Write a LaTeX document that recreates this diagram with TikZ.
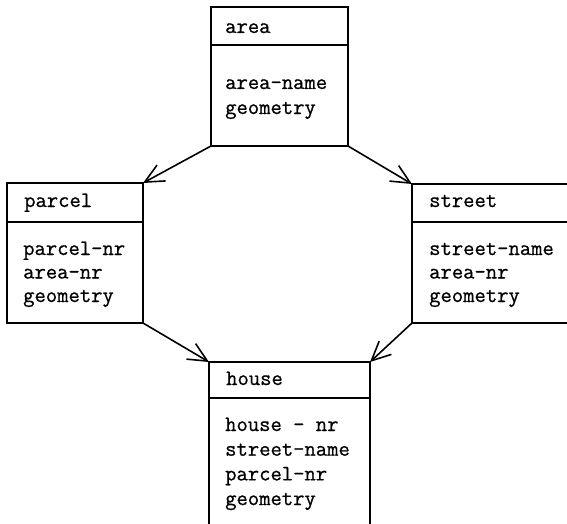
\documentclass[tikz,border=0pt]{standalone}
\usepackage{fontspec}
\newfontfamily\boxfont[FakeBold=0.8]{Latin Modern Mono}
\usetikzlibrary{arrows.meta}
\begin{document}
\begin{tikzpicture}[x=1pt,y=-1pt,
  ebox/.style={draw, line width=1.8pt, rectangle, anchor=north west,
    inner sep=0pt, outer sep=0pt},
  divider/.style={line width=1.8pt},
  label/.style={anchor=base west, inner sep=0pt,
    font=\boxfont\fontsize{22}{24}\selectfont},
  link/.style={line width=1.6pt,
    -{Straight Barb[length=19pt,width=18pt,line width=1.6pt]}}]
  \useasboundingbox (0,0) rectangle (567,524);
  \clip (0,0) rectangle (567,524);

  % entity boxes
  \node[ebox, minimum width=137pt, minimum height=139pt] (area)   at (211,7)   {};
  \node[ebox, minimum width=136pt, minimum height=140pt] (parcel) at (7,183)   {};
  \node[ebox, minimum width=200pt, minimum height=139pt] (street) at (412,184) {};
  \node[ebox, minimum width=161pt, minimum height=200pt] (house)  at (209,362) {};

  % header separators
  \draw[divider] (area.west |- 0,45)    -- (area.east |- 0,45);
  \draw[divider] (parcel.west |- 0,222) -- (parcel.east |- 0,222);
  \draw[divider] (street.west |- 0,222) -- (street.east |- 0,222);
  \draw[divider] (house.west |- 0,398)  -- (house.east |- 0,398);

  % entity names
  \node[label] (area-h)   at (225,33)  {area};
  \node[label] (parcel-h) at (24,207)  {parcel};
  \node[label] (street-h) at (429,207) {street};
  \node[label] (house-h)  at (226,385) {house};

  % attributes
  \foreach \t [count=\i] in {area-name, geometry}
    \node[label] (area-a\i) at (225,{89+25*(\i-1)}) {\t};
  \foreach \t [count=\i] in {parcel-nr, area-nr, geometry}
    \node[label] (parcel-a\i) at (23,{255+23.5*(\i-1)}) {\t};
  \foreach \t [count=\i] in {street-name, area-nr, geometry}
    \node[label] (street-a\i) at (429,{255+23.5*(\i-1)}) {\t};
  \foreach \t [count=\i] in {house - nr, street-name, parcel-nr, geometry}
    \node[label] (house-a\i) at (225,{431+24.7*(\i-1)}) {\t};

  % relationships
  \draw[link] (area.south west)   -- (parcel.north east);
  \draw[link] (area.south east)   -- (street.north west);
  \draw[link] (parcel.south east) -- (house.north west);
  \draw[link] (street.south west) -- (house.north east);
\end{tikzpicture}
\end{document}
